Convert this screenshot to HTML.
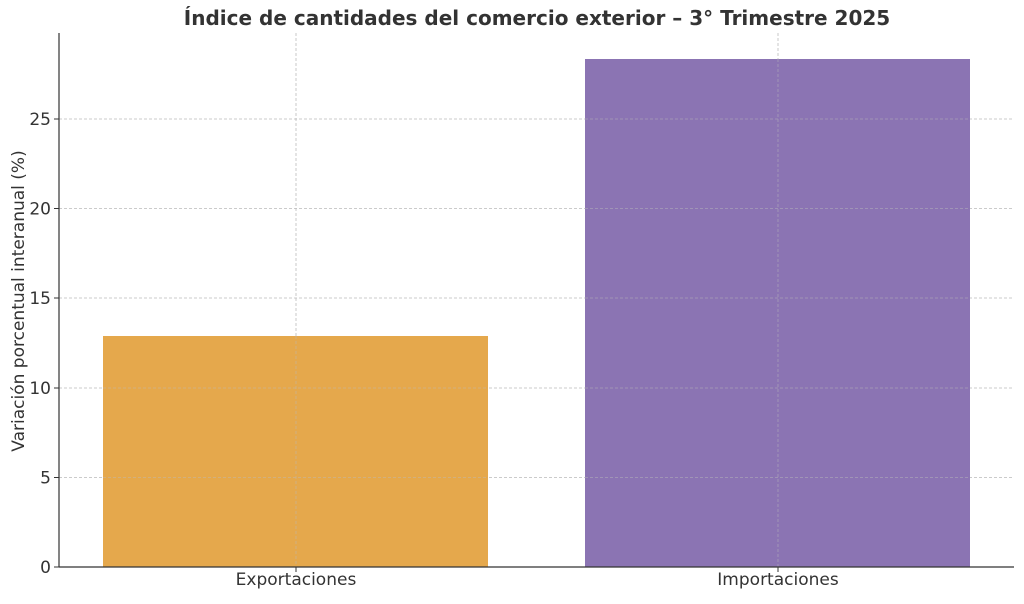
<!DOCTYPE html>
<html><head><meta charset="utf-8"><style>
body{margin:0;background:#fff;}
</style></head><body>
<svg width="1024" height="599" xmlns="http://www.w3.org/2000/svg" font-family="DejaVu Sans, Liberation Sans, sans-serif">
<rect width="1024" height="599" fill="#fff"/>
<text x="537" y="25" text-anchor="middle" font-size="20" font-weight="bold" fill="#333">Índice de cantidades del comercio exterior – 3° Trimestre 2025</text>
<g stroke="#bbb" stroke-dasharray="3,2" stroke-width="0.8">
<line x1="59" x2="1014" y1="477.5" y2="477.5"/>
<line x1="59" x2="1014" y1="388" y2="388"/>
<line x1="59" x2="1014" y1="298" y2="298"/>
<line x1="59" x2="1014" y1="208.5" y2="208.5"/>
<line x1="59" x2="1014" y1="119" y2="119"/>
<line x1="296" x2="296" y1="33" y2="567"/>
<line x1="778" x2="778" y1="33" y2="567"/>
</g>
<rect x="103" y="336" width="385" height="231" fill="#e5a84c"/>
<rect x="585" y="59" width="385" height="508" fill="#8b74b3"/>
<g stroke="#bbb" stroke-dasharray="3,2" stroke-width="0.8" opacity="0.6">
<line x1="103" x2="488" y1="477.5" y2="477.5"/><line x1="103" x2="488" y1="388" y2="388"/>
<line x1="585" x2="970" y1="477.5" y2="477.5"/><line x1="585" x2="970" y1="388" y2="388"/>
<line x1="585" x2="970" y1="298" y2="298"/><line x1="585" x2="970" y1="208.5" y2="208.5"/><line x1="585" x2="970" y1="119" y2="119"/>
<line x1="296" x2="296" y1="336" y2="567"/><line x1="778" x2="778" y1="59" y2="567"/>
</g>
<line x1="59" x2="59" y1="33" y2="567" stroke="#333" stroke-width="1.2"/>
<line x1="59" x2="1014" y1="567" y2="567" stroke="#333" stroke-width="1.2"/>
<g stroke="#333"><line x1="54" x2="59" y1="567" y2="567"/><line x1="54" x2="59" y1="477.5" y2="477.5"/><line x1="54" x2="59" y1="388" y2="388"/><line x1="54" x2="59" y1="298" y2="298"/><line x1="54" x2="59" y1="208.5" y2="208.5"/><line x1="54" x2="59" y1="119" y2="119"/>
<line x1="296" x2="296" y1="567" y2="572"/><line x1="778" x2="778" y1="567" y2="572"/></g>
<g font-size="17" fill="#333" text-anchor="end">
<text x="51" y="573">0</text><text x="51" y="483.5">5</text><text x="51" y="394">10</text><text x="51" y="304">15</text><text x="51" y="214.5">20</text><text x="51" y="125">25</text>
</g>
<g font-size="17" fill="#333" text-anchor="middle">
<text x="296" y="585">Exportaciones</text><text x="778" y="585">Importaciones</text>
<text transform="translate(24,301) rotate(-90)">Variación porcentual interanual (%)</text>
</g>
</svg>
</body></html>
